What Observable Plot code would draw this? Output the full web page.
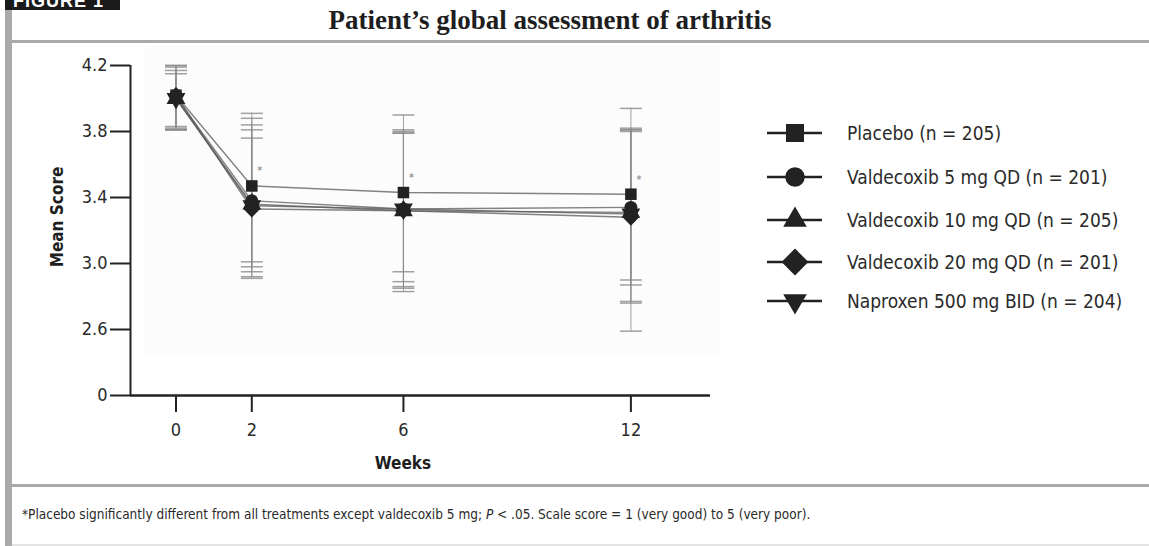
<!DOCTYPE html>
<html>
<head>
<meta charset="utf-8">
<script src="https://cdn.jsdelivr.net/npm/d3@7"></script>
<script src="https://cdn.jsdelivr.net/npm/@observablehq/plot@0.6"></script>
<style>
  html, body { margin: 0; padding: 0; background: #fff; }
  body { width: 1149px; height: 546px; position: relative; overflow: hidden;
         font-family: "Liberation Sans Narrow", "DejaVu Sans Condensed", "Roboto", sans-serif; color: #2a2a2a; }
  .abs { position: absolute; }
  #leftbar { left: 5px; top: 0; width: 7px; height: 546px; background: #a8abaa; }
  #figlabel { left: 5px; top: 0; width: 115px; height: 10px; background: #1a1a1a; overflow: hidden; }
  #figlabel span { position: absolute; left: 8px; top: -9px; line-height: 20px; color: #fff; font: bold 18px "Liberation Sans", sans-serif; letter-spacing: 1px; }
  #topline { left: 12px; top: 40px; width: 1137px; height: 3px; background: #a8abaa; }
  #botline { left: 12px; top: 484px; width: 1137px; height: 3px; background: #a8abaa; }
  #endline { left: 12px; top: 544px; width: 1137px; height: 2px; background: #e4e4e4; }
  #title { left: 12px; width: 1076px; top: 5px; text-align: center; font: bold 27px "Liberation Serif", "DejaVu Serif", serif; color: #1e1e1e; }
  #shade { left: 145px; top: 45px; width: 575px; height: 312px; background: #fcfcfc; }
  #chart { left: 0; top: 0; }
  #ylabel { left: 57px; top: 217px; transform: translate(-50%, -50%) rotate(-90deg); font-weight: bold; font-size: 17px; white-space: nowrap; color: #1e1e1e; }
  #xlabel { left: 403px; top: 463px; transform: translate(-50%, -50%); font-weight: bold; font-size: 17px; color: #1e1e1e; }
  #caption { left: 22px; top: 506px; font-size: 13.5px; color: #2a2a2a; white-space: nowrap; }
  .leg { position: absolute; left: 765px; height: 30px; display: flex; align-items: center; white-space: nowrap; font-size: 19px; color: #2a2a2a; }
  .leg svg { margin-right: 24px; }
</style>
</head>
<body>
<div id="shade" class="abs"></div>
<div id="chart" class="abs"></div>
<div id="leftbar" class="abs"></div>
<div id="figlabel" class="abs"><span>FIGURE 1</span></div>
<div id="topline" class="abs"></div>
<div id="botline" class="abs"></div>
<div id="endline" class="abs"></div>
<div id="title" class="abs">Patient’s global assessment of arthritis</div>
<div id="ylabel" class="abs">Mean Score</div>
<div id="xlabel" class="abs">Weeks</div>
<div id="caption" class="abs">*Placebo significantly different from all treatments except valdecoxib 5 mg; <i>P</i> &lt; .05. Scale score = 1 (very good) to 5 (very poor).</div>
<div id="legend"></div>
<script>
// ---- data ----
const weeks = [0, 2, 6, 12];
const seriesNames = [
  "Placebo (n = 205)",
  "Valdecoxib 5 mg QD (n = 201)",
  "Valdecoxib 10 mg QD (n = 205)",
  "Valdecoxib 20 mg QD (n = 201)",
  "Naproxen 500 mg BID (n = 204)"
];
const meanPlacebo = [4.02, 3.47, 3.43, 3.42];
const meanVal5    = [4.01, 3.38, 3.33, 3.34];
const meanVal10   = [4.00, 3.36, 3.32, 3.31];
const meanVal20   = [4.02, 3.33, 3.32, 3.28];
const meanNap     = [4.00, 3.35, 3.33, 3.30];

const upperPlacebo = [4.20, 3.91, 3.90, 3.94];
const upperVal5    = [4.19, 3.84, 3.80, 3.81];
const upperVal10   = [4.17, 3.81, 3.79, 3.80];
const upperVal20   = [4.20, 3.88, 3.81, 3.81];
const upperNap     = [4.15, 3.76, 3.79, 3.82];

const lowerPlacebo = [3.81, 3.01, 2.95, 2.90];
const lowerVal5    = [3.82, 2.92, 2.86, 2.76];
const lowerVal10   = [3.81, 2.91, 2.85, 2.59];
const lowerVal20   = [3.83, 2.95, 2.89, 2.87];
const lowerNap     = [3.81, 2.98, 2.83, 2.77];

const asteriskWeeks = [2, 6, 12];
const yTicks = [2.2, 2.6, 3.0, 3.4, 3.8, 4.2];   // 2.2 position is labelled "0" (broken axis)
const yTickLabels = ["0", "2.6", "3.0", "3.4", "3.8", "4.2"];
const xDomain = [-1.2, 14.1];
const yDomain = [2.2, 4.2];

// ---- build table ----
const means = [meanPlacebo, meanVal5, meanVal10, meanVal20, meanNap];
const uppers = [upperPlacebo, upperVal5, upperVal10, upperVal20, upperNap];
const lowers = [lowerPlacebo, lowerVal5, lowerVal10, lowerVal20, lowerNap];
const rows = [];
seriesNames.forEach((s, i) => weeks.forEach((w, j) =>
  rows.push({series: s, week: w, mean: means[i][j], hi: uppers[i][j], lo: lowers[i][j]})));
const asteriskRows = rows.filter(d => d.series === seriesNames[0] && asteriskWeeks.includes(d.week));

// ---- symbols ----
const triDown = {
  draw(ctx, size) {
    const s3 = Math.sqrt(3);
    const y = -Math.sqrt(size / (s3 * 3));
    ctx.moveTo(0, -y * 2);
    ctx.lineTo(-s3 * y, y);
    ctx.lineTo(s3 * y, y);
    ctx.closePath();
  }
};
const cap = {
  draw(ctx, size) {
    const w = Math.sqrt(size) / 2;
    ctx.moveTo(-w, 0);
    ctx.lineTo(w, 0);
  }
};
const symbols = ["square", "circle", "triangle", "diamond2", triDown];
const symbolR = [6.5, 6.5, 7, 7.5, 7];

const ink = "#222";
const marks = [
  Plot.ruleX(rows, {x: "week", y1: "lo", y2: "hi", stroke: "#8a8a8a", strokeWidth: 1, strokeOpacity: 0.8}),
  Plot.dot(rows, {x: "week", y: "hi", symbol: cap, r: 12.4, fill: "none", stroke: "#8a8a8a", strokeWidth: 1.5, strokeOpacity: 0.8}),
  Plot.dot(rows, {x: "week", y: "lo", symbol: cap, r: 12.4, fill: "none", stroke: "#8a8a8a", strokeWidth: 1.5, strokeOpacity: 0.8}),
  ...seriesNames.map(s => Plot.line(rows.filter(d => d.series === s),
      {x: "week", y: "mean", stroke: "#5a5a5a", strokeWidth: 1.4, strokeOpacity: 0.75})),
  ...seriesNames.map((s, i) => Plot.dot(rows.filter(d => d.series === s),
      {x: "week", y: "mean", symbol: symbols[i], r: symbolR[i], fill: ink, stroke: "none"})),
  Plot.text(asteriskRows, {x: "week", y: "mean", text: () => "*", dx: 8, dy: -15, fontSize: 11, fill: "#777"}),
  Plot.ruleX([xDomain[0]], {y1: yDomain[0], y2: yDomain[1], stroke: ink, strokeWidth: 2}),
  Plot.ruleY([yDomain[0]], {stroke: ink, strokeWidth: 2.5}),
  Plot.axisY({ticks: yTicks, tickFormat: (d, i) => yTickLabels[yTicks.indexOf(d)], tickSize: 20, tickPadding: 3,
              fontSize: 18, label: null, stroke: ink, strokeWidth: 2, fill: "#2a2a2a"}),
  Plot.axisX({ticks: weeks, tickSize: 17, tickPadding: 11, fontSize: 18, label: null, stroke: ink, strokeWidth: 2, fill: "#2a2a2a"})
];

const chart = Plot.plot({
  width: 1149,
  height: 546,
  marginLeft: 130,
  marginRight: 439,
  marginTop: 65,
  marginBottom: 151,
  x: {domain: xDomain},
  y: {domain: yDomain},
  style: {background: "transparent", fontFamily: '"Liberation Sans Narrow", "DejaVu Sans Condensed", sans-serif', overflow: "visible"},
  marks
});
document.getElementById("chart").appendChild(chart);

// ---- legend ----
const legendY = [133, 177, 220, 262, 301];
const legend = document.getElementById("legend");
seriesNames.forEach((s, i) => {
  const row = document.createElement("div");
  row.className = "leg";
  row.style.top = (legendY[i] - 15) + "px";
  const svg = d3.create("svg").attr("width", 58).attr("height", 30);
  svg.append("line").attr("x1", 2).attr("x2", 57).attr("y1", 15).attr("y2", 15)
     .attr("stroke", ink).attr("stroke-width", 2.5);
  const sym = typeof symbols[i] === "string"
    ? ({square: d3.symbolSquare, circle: d3.symbolCircle, triangle: d3.symbolTriangle, diamond2: d3.symbolDiamond2})[symbols[i]]
    : symbols[i];
  const sizes = [324, 300, 240, 460, 240];
  svg.append("path").attr("d", d3.symbol(sym, sizes[i])()).attr("transform", "translate(30,15)").attr("fill", ink);
  row.appendChild(svg.node());
  const t = document.createElement("span");
  t.textContent = s;
  row.appendChild(t);
  legend.appendChild(row);
});
</script>
</body>
</html>
